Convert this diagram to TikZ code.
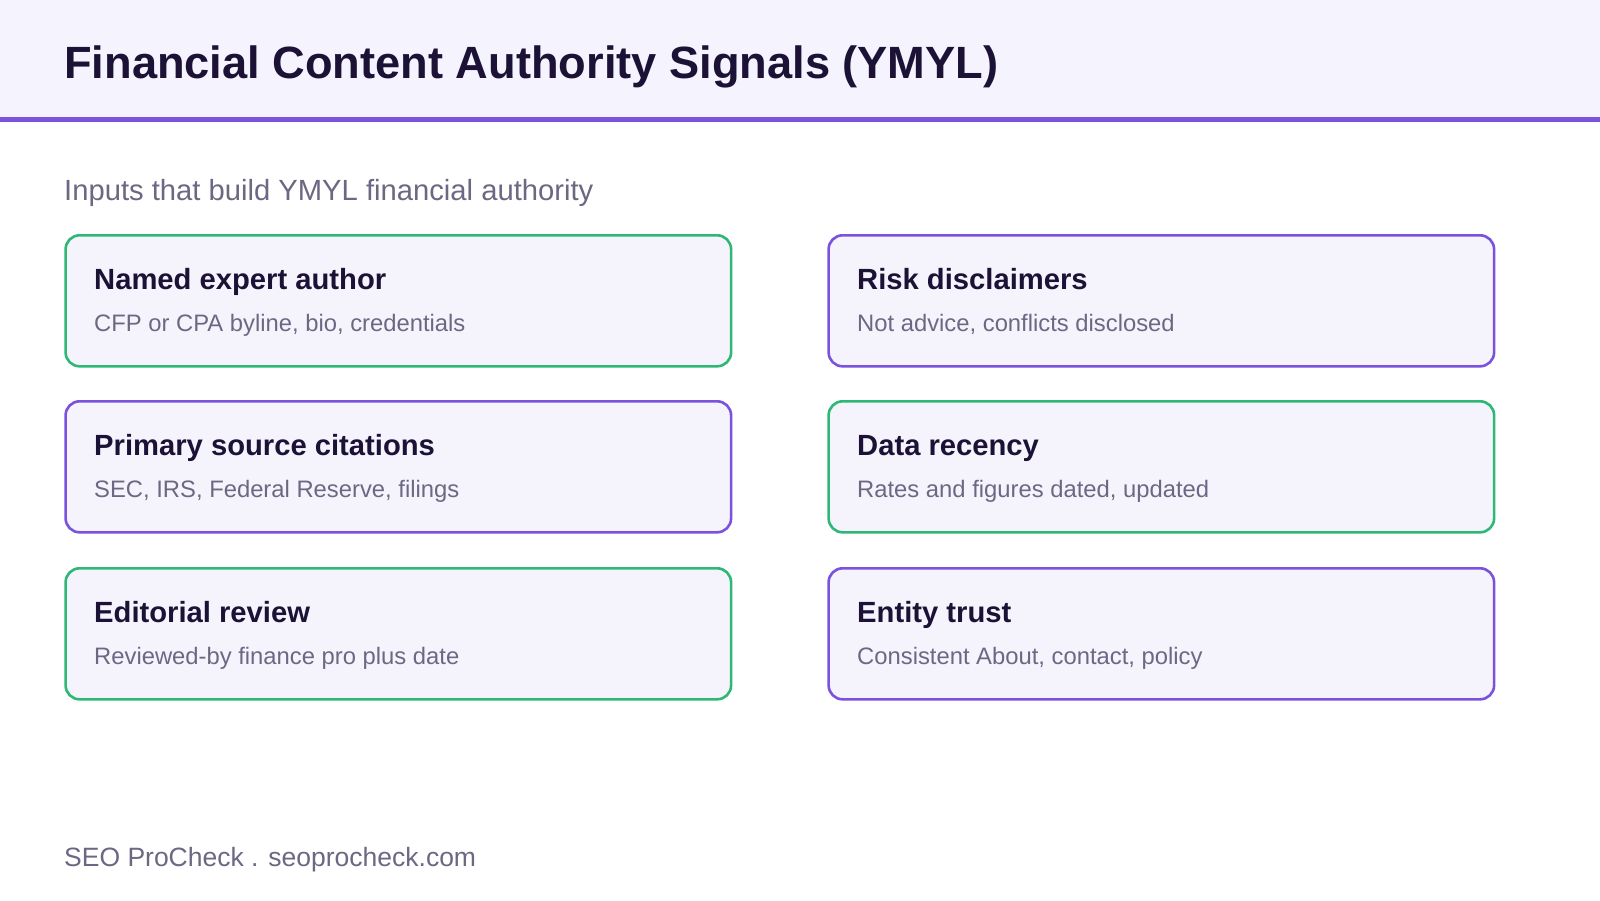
\documentclass[tikz,border=0pt]{standalone}
\usepackage{fontspec}
\setmainfont{Liberation Sans}
\usetikzlibrary{calc}
\definecolor{hdrbg}{HTML}{F5F3FE}
\definecolor{cardbg}{HTML}{F5F4FD}
\definecolor{purp}{HTML}{7B52DE}
\definecolor{grn}{HTML}{2FB776}
\definecolor{ink}{HTML}{1B1236}
\definecolor{muted}{HTML}{6C6883}
\tikzset{
  card/.style={draw=#1, fill=cardbg, line width=2.6pt, rounded corners=14pt,
    minimum width=665.5pt, minimum height=131pt, anchor=north west, inner sep=0pt},
  cardtitle/.style={anchor=base west, inner sep=0pt, text=ink,
    font=\fontsize{29.2}{34}\selectfont\bfseries},
  carddesc/.style={anchor=base west, inner sep=0pt, text=muted,
    font=\fontsize{23.8}{28}\selectfont},
}
\begin{document}
\begin{tikzpicture}[x=1pt,y=-1pt]
\useasboundingbox (0,0) rectangle (1600,900);
\fill[white] (0,0) rectangle (1600,900);
\fill[hdrbg] (0,0) rectangle (1600,118);
\fill[purp] (0,117) rectangle (1600,122);
\node[anchor=base west, inner sep=0pt, text=ink, font=\fontsize{45.2}{54}\selectfont\bfseries] (title) at (64,78) {Financial Content Authority Signals (YMYL)};
\node[anchor=base west, inner sep=0pt, text=muted, font=\fontsize{29.2}{34}\selectfont] (sub) at (64,200) {Inputs that build YMYL financial authority};

\node[card=grn] (c1) at (64.3,234) {};
\node[card=purp] (c2) at (827.3,234) {};
\node[card=purp] (c3) at (64.3,400) {};
\node[card=grn] (c4) at (827.3,400) {};
\node[card=grn] (c5) at (64.3,567) {};
\node[card=purp] (c6) at (827.3,567) {};

\node[cardtitle] (t1) at ($(c1.north west)+(29.7,55)$) {Named expert author};
\node[carddesc] (d1) at ($(c1.north west)+(29.7,97)$) {CFP or CPA byline, bio, credentials};
\node[cardtitle] (t2) at ($(c2.north west)+(29.7,55)$) {Risk disclaimers};
\node[carddesc] (d2) at ($(c2.north west)+(29.7,97)$) {Not advice, conflicts disclosed};
\node[cardtitle] (t3) at ($(c3.north west)+(29.7,55)$) {Primary source citations};
\node[carddesc] (d3) at ($(c3.north west)+(29.7,97)$) {SEC, IRS, Federal Reserve, filings};
\node[cardtitle] (t4) at ($(c4.north west)+(29.7,55)$) {Data recency};
\node[carddesc] (d4) at ($(c4.north west)+(29.7,97)$) {Rates and figures dated, updated};
\node[cardtitle] (t5) at ($(c5.north west)+(29.7,55)$) {Editorial review};
\node[carddesc] (d5) at ($(c5.north west)+(29.7,97)$) {Reviewed-by finance pro plus date};
\node[cardtitle] (t6) at ($(c6.north west)+(29.7,55)$) {Entity trust};
\node[carddesc] (d6) at ($(c6.north west)+(29.7,97)$) {Consistent About, contact, policy};

\node[anchor=base west, inner sep=0pt, text=muted, font=\fontsize{26.5}{32}\selectfont] (foot) at (64,866) {SEO ProCheck . seoprocheck.com};
\end{tikzpicture}
\end{document}
